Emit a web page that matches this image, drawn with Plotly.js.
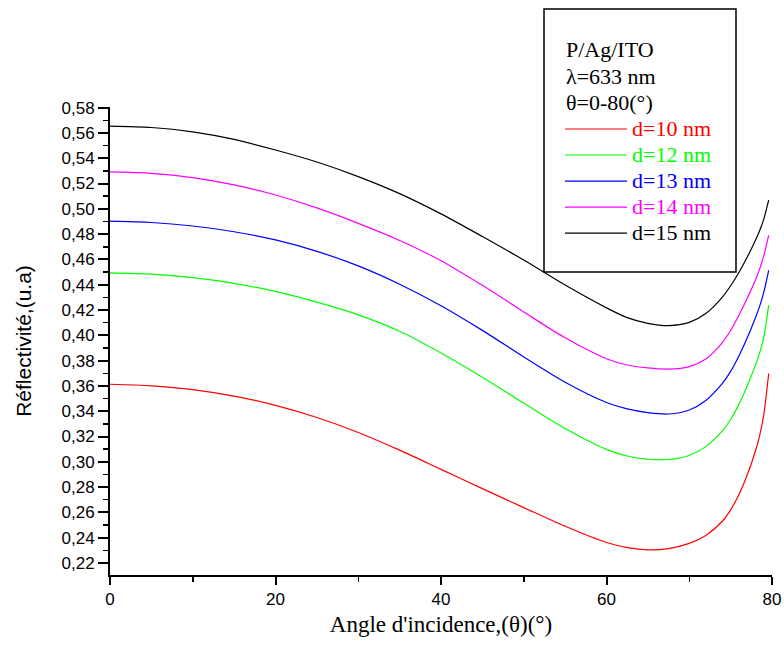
<!DOCTYPE html>
<html>
<head>
<meta charset="utf-8">
<script src="https://cdn.plot.ly/plotly-3.0.1.min.js"></script>
<style>html,body{margin:0;padding:0;background:#fff;}#chart{width:784px;height:648px;}</style>
</head>
<body>
<div id="chart"></div>
<script>
// Angle of incidence (degrees)
const theta = [0, 5, 10, 15, 20, 25, 30, 35, 40, 45, 50, 55, 60, 62.5, 65, 67.5, 70, 72, 74, 75, 76, 77, 78, 78.5, 79, 79.6];
// Reflectivity for each Ag thickness
const r_d10 = [0.3613, 0.3601, 0.3571, 0.3519, 0.3446, 0.3350, 0.3232, 0.3092, 0.2940, 0.2788, 0.2638, 0.2490, 0.2362, 0.2322, 0.2304, 0.2314, 0.2355, 0.2418, 0.2530, 0.2620, 0.2740, 0.2895, 0.3085, 0.3205, 0.3370, 0.3697];
const r_d12 = [0.4493, 0.4483, 0.4456, 0.4411, 0.4347, 0.4262, 0.4162, 0.4032, 0.3860, 0.3668, 0.3463, 0.3263, 0.3098, 0.3046, 0.3020, 0.3018, 0.3050, 0.3120, 0.3244, 0.3334, 0.3454, 0.3599, 0.3764, 0.3859, 0.3984, 0.4238];
const r_d13 = [0.4902, 0.4892, 0.4864, 0.4819, 0.4754, 0.4664, 0.4549, 0.4404, 0.4234, 0.4039, 0.3829, 0.3629, 0.3469, 0.3418, 0.3389, 0.3378, 0.3410, 0.3485, 0.3620, 0.3715, 0.3837, 0.3979, 0.4139, 0.4229, 0.4339, 0.4514];
const r_d14 = [0.5292, 0.5281, 0.5247, 0.5189, 0.5109, 0.5007, 0.4885, 0.4750, 0.4590, 0.4395, 0.4185, 0.3980, 0.3815, 0.3765, 0.3742, 0.3733, 0.3753, 0.3813, 0.3943, 0.4038, 0.4158, 0.4293, 0.4438, 0.4523, 0.4628, 0.4791];
const r_d15 = [0.5654, 0.5643, 0.5609, 0.5549, 0.5465, 0.5370, 0.5255, 0.5120, 0.4960, 0.4781, 0.4595, 0.4397, 0.4217, 0.4140, 0.4095, 0.4077, 0.4102, 0.4172, 0.4302, 0.4392, 0.4497, 0.4617, 0.4752, 0.4827, 0.4917, 0.5068];
const seriesNames = ['d=10 nm', 'd=12 nm', 'd=13 nm', 'd=14 nm', 'd=15 nm'];
const seriesColors = ['#ff0000', '#00ff00', '#0000ff', '#ff00ff', '#000000'];
const headerLines = ['P/Ag/ITO', 'λ=633 nm', 'θ=0-80(°)'];
const xTitle = "Angle d'incidence,(θ)(°)";
const yTitle = 'Réflectivité,(u.a)';

const seriesValues = [r_d10, r_d12, r_d13, r_d14, r_d15];
const serif = '"Liberation Serif", "Times New Roman", serif';
const sans = '"Liberation Sans", Arial, sans-serif';

const traces = seriesValues.map((vals, i) => ({
  x: theta, y: vals, type: 'scatter', mode: 'lines',
  name: '<span style="font-size:22px;color:' + seriesColors[i] + '">' + seriesNames[i] + '</span>',
  line: {color: seriesColors[i], width: 1.2, shape: 'spline', smoothing: 0.8},
  hoverinfo: 'x+y'
}));

// plot area geometry in px for placing paper items
const L = 110, R = 12, T = 107, B = 73, W = 784, H = 648;
const pw = W - L - R, ph = H - T - B;
const px = v => (v - L) / pw;
const py = v => (H - B - v) / ph;

const headerY = [50, 76, 102];
const annotations = headerLines.map((t, i) => ({
  xref: 'paper', yref: 'paper', x: px(564), y: py(headerY[i]),
  xanchor: 'left', yanchor: 'middle', showarrow: false, align: 'left',
  text: t, font: {family: serif, size: 22, color: '#000'}
}));

const layout = {
  width: W, height: H,
  margin: {l: L, r: R, t: T, b: B, pad: 0},
  paper_bgcolor: '#fff', plot_bgcolor: '#fff',
  separators: ',.',
  showlegend: true,
  legend: {
    x: px(560), y: py(111), xanchor: 'left', yanchor: 'top',
    bgcolor: 'rgba(0,0,0,0)', borderwidth: 0,
    font: {family: serif, size: 17.7, color: '#000'},
    itemwidth: 62, traceorder: 'normal'
  },
  xaxis: {
    range: [0, 80], dtick: 20, tick0: 0,
    showgrid: false, zeroline: false,
    showline: true, linecolor: '#000', linewidth: 2,
    ticks: 'outside', ticklen: 8, tickwidth: 2, tickcolor: '#000',
    minor: {dtick: 10, ticks: 'outside', ticklen: 5, tickwidth: 1.5, tickcolor: '#000', showgrid: false},
    tickfont: {family: sans, size: 17, color: '#000'},
    ticklabelstandoff: 0,
    title: {text: xTitle, font: {family: serif, size: 23, color: '#000'}, standoff: 7},
    mirror: false
  },
  yaxis: {
    range: [0.2105, 0.5805], dtick: 0.02, tick0: 0.22,
    tickformat: '.2f',
    showgrid: false, zeroline: false,
    showline: true, linecolor: '#000', linewidth: 2,
    ticks: 'outside', ticklen: 10, tickwidth: 2, tickcolor: '#000',
    minor: {dtick: 0.01, ticks: 'outside', ticklen: 5, tickwidth: 1.5, tickcolor: '#000', showgrid: false},
    tickfont: {family: sans, size: 17, color: '#000'},
    title: {text: yTitle, font: {family: sans, size: 21, color: '#000'}, standoff: 24},
    mirror: false
  },
  shapes: [{
    type: 'rect', xref: 'paper', yref: 'paper',
    x0: px(544), x1: px(736), y0: py(272), y1: py(9),
    line: {color: '#000', width: 1.5}, fillcolor: 'rgba(0,0,0,0)', layer: 'above'
  }],
  annotations: annotations
};

Plotly.newPlot('chart', traces, layout, {displayModeBar: false, staticPlot: true});
</script>
</body>
</html>
